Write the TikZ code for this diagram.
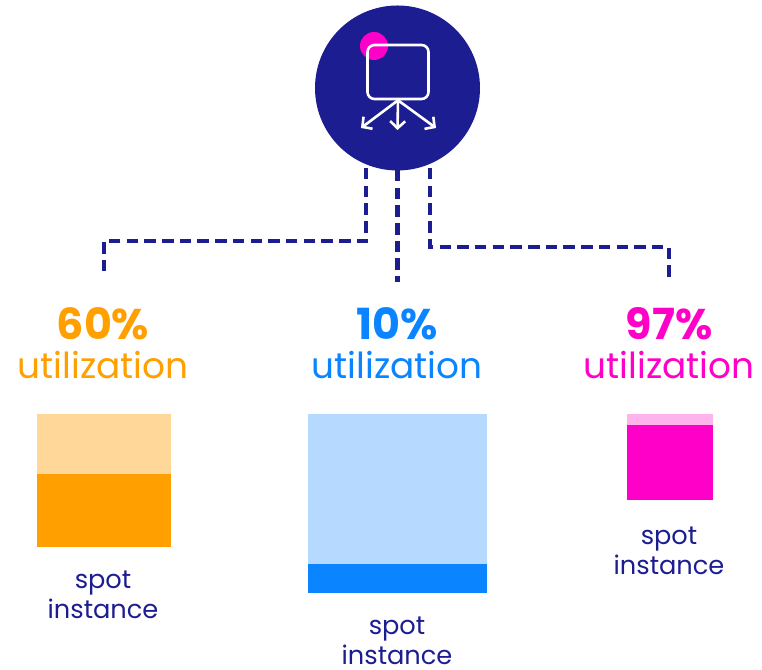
\documentclass[tikz,border=0pt]{standalone}
\usepackage{fontspec}
\setmainfont{Poppins}
\usetikzlibrary{positioning, arrows.meta}
\definecolor{navy}{HTML}{1D1D92}
\definecolor{orangeu}{HTML}{FF9F00}
\definecolor{orangel}{HTML}{FFD899}
\definecolor{blueu}{HTML}{0A84FF}
\definecolor{bluel}{HTML}{B5D9FF}
\definecolor{pinku}{HTML}{FF00C8}
\definecolor{pinkl}{HTML}{FFB3EC}
\tikzset{
  link/.style={navy, line width=0.44mm, dash pattern=on 1.15mm off 0.62mm},
  pct/.style={font=\fontsize{12.2pt}{13pt}\selectfont\bfseries, inner sep=0pt},
  util/.style={font=\fontsize{10.2pt}{12pt}\selectfont, inner sep=0pt},
  spot/.style={navy, font=\fontsize{7.3pt}{8.5pt}\selectfont, align=center, inner sep=0pt},
  part/.style={draw=none, inner sep=0pt, minimum width=#1, anchor=north west},
  iconline/.style={white, line width=0.26mm},
  fan/.style={iconline, -{Straight Barb[length=0.7mm,width=1.5mm]}}
}
\begin{document}
\begin{tikzpicture}
  \useasboundingbox (0,0) rectangle (7.62,6.7);
  % hub
  \node[circle, fill=navy, minimum size=1.65cm, inner sep=0pt] (hub) at (3.975,5.82) {};
  \node[circle, fill=pinku, minimum size=0.28cm, inner sep=0pt] (dot) at (3.74,6.24) {};
  \node[draw=white, line width=0.26mm, rounded corners=0.7mm, minimum width=0.61cm, minimum height=0.54cm, inner sep=0pt] (screen) at (3.98,5.98) {};
  \coordinate (fanl) at (3.61,5.42);
  \coordinate (fanm) at (3.975,5.40);
  \coordinate (fanr) at (4.36,5.42);
  \draw[fan] (screen.south) -- (fanl);
  \draw[fan] (screen.south) -- (fanm);
  \draw[fan] (screen.south) -- (fanr);
  % dashed links
  \coordinate (ls) at (3.66,5.02);
  \coordinate (ms) at (3.975,5.0);
  \coordinate (rs) at (4.30,5.02);
  \coordinate (le) at (1.04,3.98);
  \coordinate (me) at (3.975,3.88);
  \coordinate (re) at (6.69,3.88);
  \draw[link] (ls) |- ++(-1,-0.73) -| (le);
  \draw[link] (ms) -- (me);
  \draw[link] (rs) |- ++(1,-0.79) -| (re);
  % labels
  \node[pct, text=orangeu] (p1) at (1.03,3.46) {60\%};
  \node[util, text=orangeu] (u1) at (1.03,3.05) {utilization};
  \node[pct, text=blueu] (p2) at (3.97,3.46) {10\%};
  \node[util, text=blueu] (u2) at (3.97,3.05) {utilization};
  \node[pct, text=pinku] (p3) at (6.69,3.46) {97\%};
  \node[util, text=pinku] (u3) at (6.69,3.05) {utilization};
  % instances
  \node[part=1.34cm, fill=orangel, minimum height=0.60cm] (a1) at (0.365,2.57) {};
  \node[part=1.34cm, fill=orangeu, minimum height=0.73cm, below=-0.3pt of a1.south west, anchor=north west] (a2) {};
  \node[part=1.79cm, fill=bluel, minimum height=1.50cm] (b1) at (3.075,2.57) {};
  \node[part=1.79cm, fill=blueu, minimum height=0.29cm, below=-0.3pt of b1.south west, anchor=north west] (b2) {};
  \node[part=0.86cm, fill=pinkl, minimum height=0.11cm] (c1) at (6.26,2.57) {};
  \node[part=0.86cm, fill=pinku, minimum height=0.75cm, below=-0.3pt of c1.south west, anchor=north west] (c2) {};
  \node[spot] (s1) at (1.03,0.75) {spot\\instance};
  \node[spot] (s2) at (3.97,0.29) {spot\\instance};
  \node[spot] (s3) at (6.69,1.19) {spot\\instance};
\end{tikzpicture}
\end{document}
